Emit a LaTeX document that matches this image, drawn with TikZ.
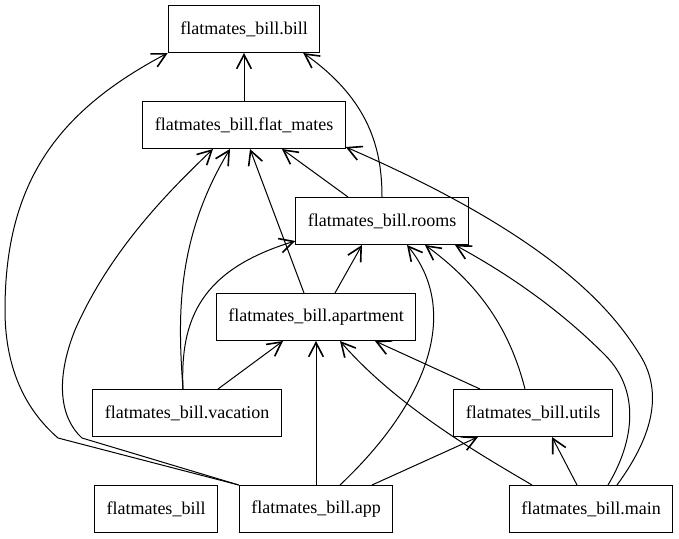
\documentclass[tikz,border=0pt]{standalone}
\usepackage{fontspec}
\setmainfont{Liberation Serif}
\newfontfamily\modfont{Liberation Serif}
\usetikzlibrary{arrows.meta}
\begin{document}
\begin{tikzpicture}[x=0.75pt,y=-0.75pt,
  module/.style={draw,line width=0.75pt,minimum height=35.25pt,inner xsep=9pt,font=\modfont\fontsize{13.5}{16}\selectfont},
  dep/.style={-{Straight Barb[length=10.5pt,width=11pt,line width=1.2pt]},line width=0.75pt}]
\useasboundingbox (0,0) rectangle (679,539);
% modules
\node[module] (bill) at (244,29) {flatmates\_bill.bill};
\node[module] (flatmates) at (244,125) {flatmates\_bill.flat\_mates};
\node[module] (rooms) at (382,221) {flatmates\_bill.rooms};
\node[module] (apartment) at (316,317) {flatmates\_bill.apartment};
\node[module] (vacation) at (187,413) {flatmates\_bill.vacation};
\node[module] (utils) at (533,413) {flatmates\_bill.utils};
\node[module] (pkg) at (156,509) {flatmates\_bill};
\node[module] (app) at (316,509) {flatmates\_bill.app};
\node[module] (main) at (591,509) {flatmates\_bill.main};
% imports
\draw[dep] (flatmates) -- (bill);
\draw[dep] (rooms.north) .. controls (382,150) and (370,100) .. ([xshift=-12.75pt]bill.south east);
\draw[dep] ([xshift=-25.5pt]rooms.north) -- ([xshift=28.5pt]flatmates.south);
\draw[dep] ([xshift=-9pt]apartment.north) -- ([xshift=4.5pt]flatmates.south);
\draw[dep] ([xshift=14.25pt]apartment.north) -- ([xshift=-15pt]rooms.south);
\draw[dep] ([xshift=-3pt]vacation.north) .. controls (178,320) and (175,240) .. ([xshift=-10.5pt]flatmates.south);
\draw[dep] ([xshift=-3pt]vacation.north) .. controls (180,320) and (200,270) .. ([yshift=-15pt]rooms.west);
\draw[dep] ([xshift=23.25pt]vacation.north) -- ([xshift=-24.75pt]apartment.south);
\draw[dep] ([xshift=-39.75pt]utils.north) -- ([xshift=44.25pt]apartment.south);
\draw[dep] ([xshift=-6pt]utils.north) .. controls (510,330) and (480,285) .. ([xshift=32.25pt]rooms.south);
\draw[dep] (app.north west) -- (58,438) .. controls (20,405) and (5,360) .. (5,310)
  .. controls (5,180) and (60,110) .. (bill.south west);
\draw[dep] (app.north west) -- (82,438) .. controls (60,418) and (55,380) .. (75,330)
  .. controls (110,250) and (170,190) .. ([xshift=-23.25pt]flatmates.south);
\draw[dep] (app) -- (apartment);
\draw[dep] ([xshift=18pt]app.north) .. controls (430,400) and (460,310) .. ([xshift=18.75pt]rooms.south);
\draw[dep] ([xshift=42pt]app.north) -- ([xshift=-41.25pt]utils.south);
\draw[dep] ([xshift=-44.25pt]main.north) .. controls (490,460) and (400,410) .. ([xshift=18pt]apartment.south);
\draw[dep] ([xshift=-10.5pt]main.north) -- ([xshift=14.25pt]utils.south);
\draw[dep] ([xshift=12.75pt]main.north) .. controls (635,440) and (640,390) .. (605,355)
  .. controls (560,310) and (510,275) .. ([xshift=54.75pt]rooms.south);
\draw[dep] ([xshift=19.5pt]main.north) .. controls (650,440) and (665,395) .. (640,355)
  .. controls (615,315) and (560,240) .. ([yshift=1.5pt]flatmates.south east);
\end{tikzpicture}
\end{document}
